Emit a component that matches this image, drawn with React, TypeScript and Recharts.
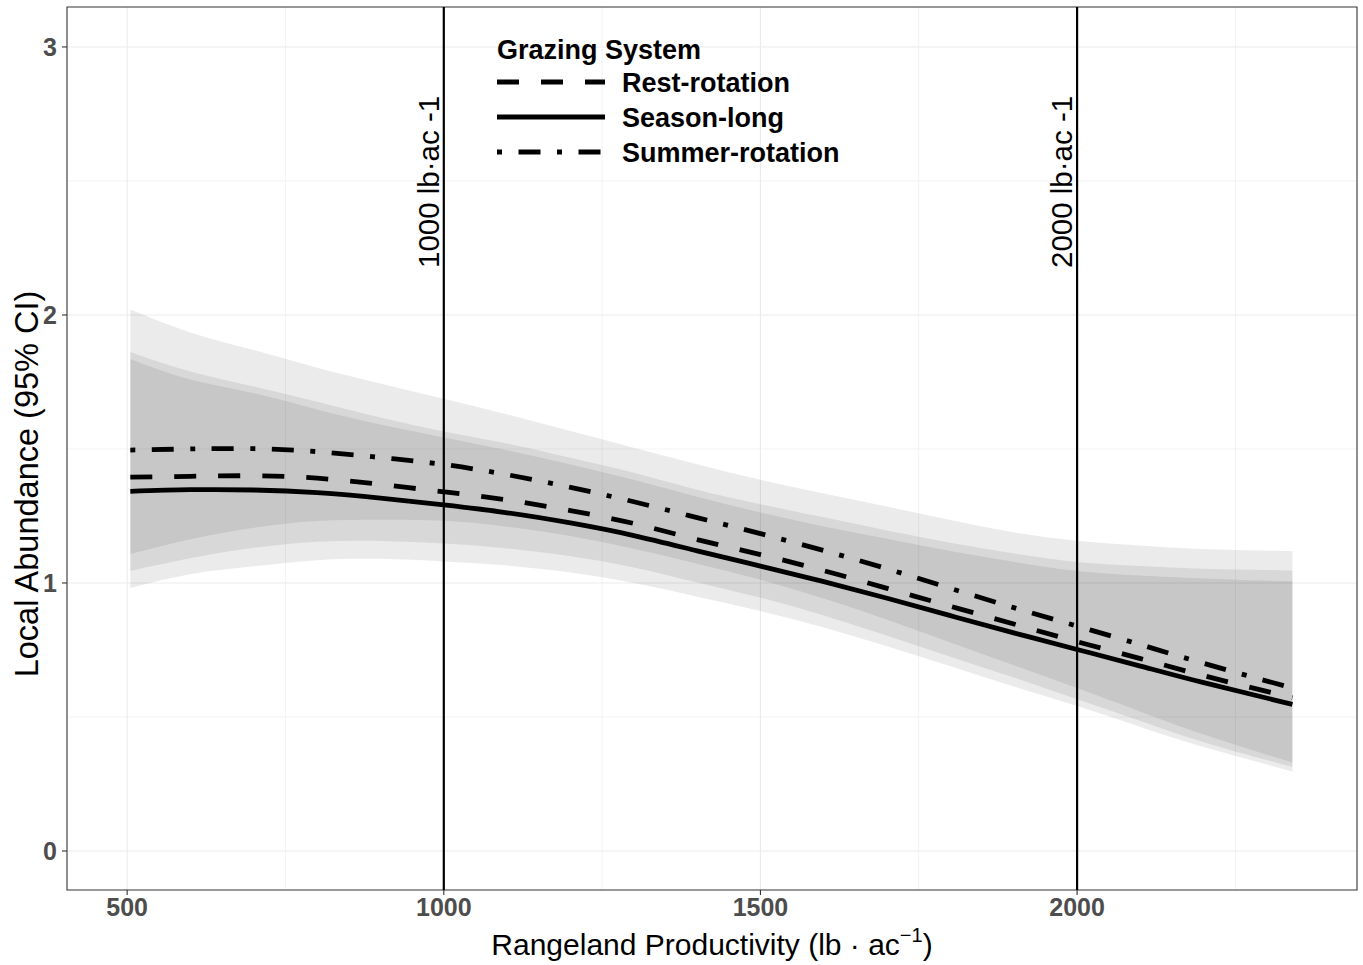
import React from 'react';
import {
  ComposedChart,
  Area,
  Line,
  XAxis,
  YAxis,
  CartesianGrid,
  ReferenceLine,
  ReferenceArea,
  Legend,
} from 'recharts';

// ---- data ----
const productivity = [505, 600, 700, 800, 900, 1000, 1100, 1200, 1300, 1400, 1500, 1600, 1700, 1800, 1900, 2000, 2100, 2200, 2340];

const restMean = [1.395, 1.398, 1.4, 1.391, 1.368, 1.34, 1.31, 1.27, 1.222, 1.162, 1.106, 1.046, 0.98, 0.913, 0.847, 0.781, 0.718, 0.654, 0.572];
const restLow = [1.045, 1.092, 1.131, 1.154, 1.157, 1.147, 1.129, 1.1, 1.058, 1.002, 0.945, 0.879, 0.803, 0.725, 0.647, 0.566, 0.485, 0.406, 0.313];
const restHigh = [1.862, 1.789, 1.733, 1.676, 1.617, 1.565, 1.52, 1.467, 1.411, 1.348, 1.294, 1.245, 1.196, 1.15, 1.11, 1.078, 1.063, 1.053, 1.047];

const seasonMean = [1.342, 1.348, 1.347, 1.337, 1.317, 1.291, 1.262, 1.224, 1.177, 1.12, 1.063, 1.005, 0.943, 0.878, 0.814, 0.752, 0.69, 0.628, 0.547];
const seasonLow = [0.981, 1.033, 1.062, 1.085, 1.09, 1.08, 1.065, 1.039, 1.0, 0.949, 0.895, 0.834, 0.764, 0.689, 0.614, 0.541, 0.463, 0.388, 0.297];
const seasonHigh = [1.836, 1.759, 1.708, 1.647, 1.591, 1.543, 1.495, 1.442, 1.385, 1.322, 1.263, 1.211, 1.165, 1.119, 1.079, 1.045, 1.028, 1.017, 1.006];

const summerMean = [1.496, 1.5, 1.501, 1.49, 1.468, 1.442, 1.404, 1.357, 1.303, 1.244, 1.184, 1.121, 1.053, 0.98, 0.908, 0.839, 0.77, 0.7, 0.608];
const summerLow = [1.108, 1.163, 1.206, 1.231, 1.236, 1.232, 1.21, 1.175, 1.128, 1.072, 1.012, 0.942, 0.863, 0.778, 0.693, 0.608, 0.52, 0.435, 0.33];
const summerHigh = [2.02, 1.935, 1.869, 1.803, 1.744, 1.687, 1.629, 1.567, 1.505, 1.443, 1.385, 1.334, 1.285, 1.235, 1.189, 1.158, 1.14, 1.127, 1.119];

const seriesNames = ['Rest-rotation', 'Season-long', 'Summer-rotation'];
const legendTitle = 'Grazing System';

const xTicks = [500, 1000, 1500, 2000];
const xMinor = [750, 1250, 1750, 2250];
const yTicks = [0, 1, 2, 3];
const yMinor = [0.5, 1.5, 2.5];
const xDomain = [405, 2442];
const yDomain = [-0.1455, 3.149];

const refValues = [1000, 2000];
const refLabels = ['1000 lb\u00B7ac -1', '2000 lb\u00B7ac -1'];

const yTitle = 'Local Abundance (95% CI)';
const xTitle = 'Rangeland Productivity (lb \u00B7 ac';

// ---- styling ----
const FONT = '"Liberation Sans", Arial, sans-serif';
const LINE_W = 4.8;
const CURVE = 'natural';
const dashes: Record<string, string | undefined> = {
  'Rest-rotation': '22 22',
  'Season-long': undefined,
  'Summer-rotation': '5 16.5 22 16.5',
};

const data = productivity.map((x, i) => ({
  x,
  rest: restMean[i],
  season: seasonMean[i],
  summer: summerMean[i],
  restBand: [restLow[i], restHigh[i]],
  seasonBand: [seasonLow[i], seasonHigh[i]],
  summerBand: [summerLow[i], summerHigh[i]],
}));

const RefLabel = (text: string) => (props: any) => {
  const vb = props.viewBox || {};
  const x = (vb.x ?? 0) - 5;
  const y = (vb.y ?? 0) + 261;
  return (
    <text
      x={x}
      y={y}
      transform={`rotate(-90 ${x} ${y})`}
      textAnchor="start"
      fontSize={29.5}
      fill="#000"
      fontFamily={FONT}
    >
      {text}
    </text>
  );
};

const YTitle = (props: any) => {
  const vb = props.viewBox || { x: 10, y: 7 };
  const x = vb.x + 28;
  const y = vb.y + 477;
  return (
    <text
      x={x}
      y={y}
      transform={`rotate(-90 ${x} ${y})`}
      textAnchor="middle"
      fontSize={32.5}
      fill="#000"
      fontFamily={FONT}
    >
      {yTitle}
    </text>
  );
};

const XTitle = (props: any) => {
  const vb = props.viewBox || { x: 67, y: 890, width: 1290 };
  const x = vb.x + vb.width / 2;
  const y = vb.y + 65;
  return (
    <text x={x} y={y} textAnchor="middle" fontSize={30} fill="#000" fontFamily={FONT}>
      {xTitle}
      <tspan fontSize={20} dy={-13}>{'\u22121'}</tspan>
      <tspan dy={13}>)</tspan>
    </text>
  );
};

const LegendContent = () => {
  const rowY = [62, 97, 132];
  return (
    <svg width={420} height={160} style={{ display: 'block', overflow: 'visible' }}>
      <text x={17} y={39} fontSize={27} fontWeight="bold" fill="#000" fontFamily={FONT}>
        {legendTitle}
      </text>
      {seriesNames.map((name, i) => (
        <g key={name}>
          <line
            x1={17}
            x2={125}
            y1={rowY[i]}
            y2={rowY[i]}
            stroke="#000"
            strokeWidth={5}
            strokeDasharray={dashes[name]}
          />
          <text x={142} y={rowY[i] + 9.5} fontSize={27} fontWeight="bold" fill="#000" fontFamily={FONT}>
            {name}
          </text>
        </g>
      ))}
    </svg>
  );
};

export default function App() {
  return (
    <div style={{ position: 'absolute', left: 0, top: 0, background: '#fff', fontFamily: FONT }}>
      <ComposedChart
        width={1363}
        height={965}
        data={data}
        margin={{ top: 7, right: 6, left: 10, bottom: 0 }}
      >
        <CartesianGrid
          horizontalValues={yMinor}
          verticalValues={xMinor}
          stroke="#EBEBEB"
          strokeWidth={0.6}
        />
        <CartesianGrid
          horizontalValues={yTicks}
          verticalValues={xTicks}
          stroke="#EBEBEB"
          strokeWidth={1.1}
        />
        <XAxis
          dataKey="x"
          type="number"
          domain={xDomain}
          ticks={xTicks}
          allowDataOverflow
          height={75}
          axisLine={false}
          tickSize={5}
          tickMargin={3}
          tickLine={{ stroke: '#333333', strokeWidth: 1.1 }}
          tick={{ fontSize: 25, fontWeight: 'bold', fill: '#4D4D4D', fontFamily: FONT }}
          label={<XTitle />}
        />
        <YAxis
          type="number"
          domain={yDomain}
          ticks={yTicks}
          allowDataOverflow
          width={57}
          axisLine={false}
          tickSize={5}
          tickMargin={5}
          tickLine={{ stroke: '#333333', strokeWidth: 1.1 }}
          tick={{ fontSize: 25, fontWeight: 'bold', fill: '#4D4D4D', fontFamily: FONT }}
          label={<YTitle />}
        />
        <Area
          dataKey="restBand"
          type={CURVE}
          stroke="none"
          fill="#000"
          fillOpacity={0.078}
          isAnimationActive={false}
          activeDot={false}
          legendType="none"
        />
        <Area
          dataKey="seasonBand"
          type={CURVE}
          stroke="none"
          fill="#000"
          fillOpacity={0.078}
          isAnimationActive={false}
          activeDot={false}
          legendType="none"
        />
        <Area
          dataKey="summerBand"
          type={CURVE}
          stroke="none"
          fill="#000"
          fillOpacity={0.078}
          isAnimationActive={false}
          activeDot={false}
          legendType="none"
        />
        <Line
          dataKey="rest"
          name={seriesNames[0]}
          type={CURVE}
          stroke="#000"
          strokeWidth={LINE_W}
          strokeDasharray={dashes[seriesNames[0]]}
          dot={false}
          activeDot={false}
          isAnimationActive={false}
        />
        <Line
          dataKey="season"
          name={seriesNames[1]}
          type={CURVE}
          stroke="#000"
          strokeWidth={LINE_W}
          dot={false}
          activeDot={false}
          isAnimationActive={false}
        />
        <Line
          dataKey="summer"
          name={seriesNames[2]}
          type={CURVE}
          stroke="#000"
          strokeWidth={LINE_W}
          strokeDasharray={dashes[seriesNames[2]]}
          dot={false}
          activeDot={false}
          isAnimationActive={false}
        />
        {refValues.map((v, i) => (
          <ReferenceLine
            key={v}
            x={v}
            stroke="#000"
            strokeWidth={2.2}
            label={RefLabel(refLabels[i])}
          />
        ))}
        <ReferenceArea
          x1={xDomain[0]}
          x2={xDomain[1]}
          y1={yDomain[0]}
          y2={yDomain[1]}
          fill="none"
          stroke="#333333"
          strokeWidth={1.1}
          ifOverflow="visible"
        />
        <Legend
          layout="horizontal"
          verticalAlign="middle"
          align="center"
          wrapperStyle={{ position: 'absolute', left: 480, top: 20, width: 420, height: 160 }}
          content={<LegendContent />}
        />
      </ComposedChart>
    </div>
  );
}
